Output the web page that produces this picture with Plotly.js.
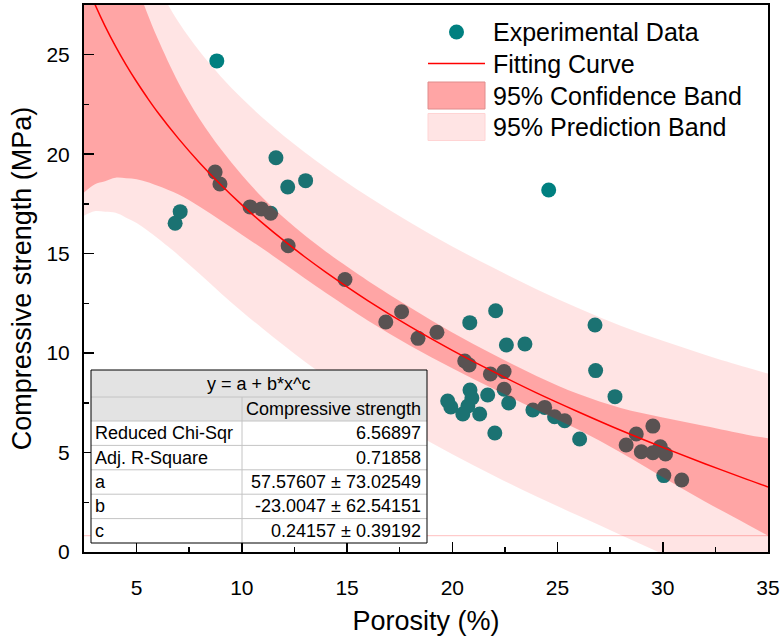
<!DOCTYPE html>
<html>
<head>
<meta charset="utf-8">
<script src="https://cdn.plot.ly/plotly-3.0.1.min.js"></script>
<style>
html,body{margin:0;padding:0;background:#fff;}
#chart{width:780px;height:637px;}
</style>
</head>
<body>
<div id="chart"></div>
<script>
// ---------------- data ----------------
const porosity = [6.83, 7.07, 8.81, 8.73, 8.96, 10.39, 10.93, 11.37, 11.62, 12.18, 13.03, 12.20, 14.90, 16.84, 17.59, 18.37, 19.27, 20.59, 20.80, 20.83, 22.06, 21.81, 22.46, 22.46, 22.57, 23.45, 19.78, 19.93, 20.84, 20.93, 20.74, 20.50, 21.30, 21.68, 22.68, 22.02, 23.83, 24.39, 24.86, 25.34, 26.05, 24.58, 26.78, 26.81, 27.73, 28.26, 28.74, 29.53, 28.98, 29.53, 29.88, 30.13, 30.05, 30.90];
const strength = [16.53, 17.11, 24.69, 19.10, 18.50, 17.35, 17.25, 17.03, 19.82, 18.35, 18.67, 15.40, 13.70, 11.56, 12.08, 10.74, 11.05, 9.60, 9.40, 11.53, 12.13, 8.95, 9.07, 8.18, 10.41, 10.46, 7.59, 7.29, 8.14, 7.74, 7.34, 6.94, 6.94, 7.89, 7.49, 5.98, 7.14, 7.27, 6.80, 6.60, 5.68, 18.20, 11.41, 9.12, 7.81, 5.38, 5.93, 6.33, 5.04, 4.99, 5.29, 4.93, 3.84, 3.62];

const fitX       = [2.5, 3, 3.5, 4, 4.5, 5, 5.5, 6, 7, 8, 9, 10, 11, 12, 13, 14, 16, 18, 20, 22, 24, 26, 28, 30, 32, 34, 35];
const fitY       = [28.87, 27.58, 26.44, 25.42, 24.49, 23.64, 22.85, 22.11, 20.77, 19.56, 18.46, 17.45, 16.52, 15.65, 14.83, 14.06, 12.63, 11.33, 10.14, 9.04, 8.00, 7.04, 6.12, 5.26, 4.44, 3.65, 3.27];
const confLower  = [18.07, 18.48, 18.64, 18.82, 18.79, 18.74, 18.60, 18.41, 17.97, 17.36, 16.66, 15.95, 15.24, 14.50, 13.75, 13.02, 11.63, 10.37, 9.24, 8.18, 7.15, 6.14, 5.00, 3.76, 2.54, 1.40, 0.82];
const confUpper  = [39.67, 36.68, 34.24, 32.02, 30.19, 28.54, 27.10, 25.81, 23.57, 21.76, 20.26, 18.95, 17.80, 16.80, 15.91, 15.10, 13.63, 12.29, 11.04, 9.90, 8.85, 7.94, 7.24, 6.76, 6.34, 5.90, 5.72];
const predLower  = [16.91, 17.13, 17.10, 17.05, 16.81, 16.54, 16.18, 15.77, 14.91, 13.97, 13.01, 12.09, 11.22, 10.38, 9.57, 8.81, 7.39, 6.10, 4.92, 3.82, 2.79, 1.82, 0.86, -0.10, -1.04, -1.97, -2.43];
const predUpper  = [40.83, 38.03, 35.78, 33.79, 32.17, 30.74, 29.52, 28.45, 26.63, 25.16, 23.91, 22.81, 21.82, 20.92, 20.09, 19.31, 17.87, 16.56, 15.36, 14.26, 13.21, 12.26, 11.38, 10.62, 9.92, 9.27, 8.97];

const legendLabels = ["Experimental Data", "Fitting Curve", "95% Confidence Band", "95% Prediction Band"];
const tableTitle   = "y = a + b*x^c";
const tableHeader  = ["", "Compressive strength"];
const tableParams  = ["Reduced Chi-Sqr", "Adj. R-Square", "a", "b", "c"];
const tableValues  = ["6.56897", "0.71858", "57.57607 \u00b1 73.02549", "-23.0047 \u00b1 62.54151", "0.24157 \u00b1 0.39192"];

const xTitle = "Porosity (%)";
const yTitle = "Compressive strength (MPa)";
const xRange = [2.5, 35];
const yRange = [0, 27.5];

// ---------------- layout helpers ----------------
const FONT = 'Liberation Sans, Arial, Helvetica, sans-serif';
const W = 780, H = 637;
const M = {l: 84, r: 12, t: 5, b: 85};
const PW = W - M.l - M.r, PH = H - M.t - M.b;
const fx = p => (p - M.l) / PW;          // pixel x -> paper
const fy = p => (H - M.b - p) / PH;      // pixel y -> paper

const TEAL = '#008080';
const PRED_FILL = 'rgba(255,0,0,0.106)';
const CONF_FILL = 'rgba(255,0,0,0.276)';

// ---------------- traces ----------------
const traces = [
  {x: porosity, y: strength, type: 'scatter', mode: 'markers',
   marker: {size: 15, color: TEAL, line: {width: 0}}, hoverinfo: 'skip'},
  {x: [xRange[0], xRange[1]], y: [confLower[confLower.length - 1], confLower[confLower.length - 1]],
   type: 'scatter', mode: 'lines', line: {color: 'rgba(255,0,0,0.25)', width: 1}, hoverinfo: 'skip'},
  {x: fitX, y: predLower, type: 'scatter', mode: 'lines', line: {width: 0, shape: 'spline'}, hoverinfo: 'skip'},
  {x: fitX, y: predUpper, type: 'scatter', mode: 'lines', fill: 'tonexty', fillcolor: PRED_FILL,
   line: {width: 0, shape: 'spline'}, hoverinfo: 'skip'},
  {x: fitX, y: confLower, type: 'scatter', mode: 'lines', line: {width: 0, shape: 'spline'}, hoverinfo: 'skip'},
  {x: fitX, y: confUpper, type: 'scatter', mode: 'lines', fill: 'tonexty', fillcolor: CONF_FILL,
   line: {width: 0, shape: 'spline'}, hoverinfo: 'skip'},
  {x: fitX, y: fitY, type: 'scatter', mode: 'lines', line: {color: '#FF0000', width: 1.5, shape: 'spline'}, hoverinfo: 'skip'}
];

// ---------------- shapes & annotations (legend, table) ----------------
const shapes = [];
const annotations = [];

// legend
const legRows = [32, 63.5, 95.5, 127];
const symX0 = 428, symX1 = 485, legTextX = 491;
shapes.push({type: 'circle', xref: 'paper', yref: 'paper', layer: 'above',
  x0: fx(449), x1: fx(464), y0: fy(legRows[0] - 7.5), y1: fy(legRows[0] + 7.5),
  fillcolor: TEAL, line: {width: 0}});
shapes.push({type: 'line', xref: 'paper', yref: 'paper', layer: 'above',
  x0: fx(symX0), x1: fx(symX1), y0: fy(legRows[1]), y1: fy(legRows[1]),
  line: {color: '#FF0000', width: 1.5}});
shapes.push({type: 'rect', xref: 'paper', yref: 'paper', layer: 'above',
  x0: fx(symX0), x1: fx(symX1), y0: fy(legRows[2] - 13.5), y1: fy(legRows[2] + 13.5),
  fillcolor: '#FFA5A5', line: {color: '#E08C8C', width: 1}});
shapes.push({type: 'rect', xref: 'paper', yref: 'paper', layer: 'above',
  x0: fx(symX0), x1: fx(symX1), y0: fy(legRows[3] - 13.5), y1: fy(legRows[3] + 13.5),
  fillcolor: '#FFE4E4', line: {color: '#FFD4D4', width: 1}});
legendLabels.forEach((t, i) => {
  annotations.push({text: t, xref: 'paper', yref: 'paper', x: fx(legTextX), y: fy(legRows[i]),
    xanchor: 'left', yanchor: 'middle', showarrow: false, font: {family: FONT, size: 25, color: '#000'}});
});

// table
const T = {x0: 91, x1: 427, xDiv: 242, y0: 370, yTitle: 397, yHead: 421, rowH: 24.4};
const tBottom = T.yHead + T.rowH * tableParams.length;
const GRID = '#C4C4C4';
shapes.push({type: 'rect', xref: 'paper', yref: 'paper', layer: 'above',
  x0: fx(T.x0), x1: fx(T.x1), y0: fy(T.y0), y1: fy(tBottom), fillcolor: '#FFFFFF', line: {width: 0}});
shapes.push({type: 'rect', xref: 'paper', yref: 'paper', layer: 'above',
  x0: fx(T.x0), x1: fx(T.x1), y0: fy(T.y0), y1: fy(T.yHead), fillcolor: '#E3E3E3', line: {width: 0}});
[T.yTitle, T.yHead].concat(tableParams.slice(1).map((_, i) => T.yHead + T.rowH * (i + 1))).forEach(yy => {
  shapes.push({type: 'line', xref: 'paper', yref: 'paper', layer: 'above',
    x0: fx(T.x0), x1: fx(T.x1), y0: fy(yy), y1: fy(yy), line: {color: GRID, width: 1}});
});
shapes.push({type: 'line', xref: 'paper', yref: 'paper', layer: 'above',
  x0: fx(T.xDiv), x1: fx(T.xDiv), y0: fy(T.yTitle), y1: fy(tBottom), line: {color: GRID, width: 1}});
shapes.push({type: 'rect', xref: 'paper', yref: 'paper', layer: 'above',
  x0: fx(T.x0), x1: fx(T.x1), y0: fy(T.y0), y1: fy(tBottom), fillcolor: 'rgba(0,0,0,0)', line: {color: '#000', width: 1}});

const TF = {family: FONT, size: 18, color: '#000'};
annotations.push({text: tableTitle, xref: 'paper', yref: 'paper', x: fx((T.x0 + T.x1) / 2), y: fy((T.y0 + T.yTitle) / 2),
  xanchor: 'center', yanchor: 'middle', showarrow: false, font: TF});
annotations.push({text: tableHeader[1], xref: 'paper', yref: 'paper', x: fx(T.x1 - 4), y: fy((T.yTitle + T.yHead) / 2),
  xanchor: 'right', yanchor: 'middle', showarrow: false, font: TF});
tableParams.forEach((p, i) => {
  const yc = fy(T.yHead + T.rowH * (i + 0.5));
  annotations.push({text: p, xref: 'paper', yref: 'paper', x: fx(T.x0 + 2), y: yc,
    xanchor: 'left', yanchor: 'middle', showarrow: false, font: TF});
  annotations.push({text: tableValues[i], xref: 'paper', yref: 'paper', x: fx(T.x1 - 4), y: yc,
    xanchor: 'right', yanchor: 'middle', showarrow: false, font: TF});
});

// ---------------- axes ----------------
const axisCommon = {
  showline: true, linewidth: 2, linecolor: '#000', mirror: true,
  showgrid: false, zeroline: false,
  ticks: 'inside', ticklen: 10, tickwidth: 1.5, tickcolor: '#000',
  tickmode: 'linear', tick0: 0, dtick: 5,
  tickfont: {family: FONT, size: 21, color: '#000'},
  minor: {ticks: 'inside', ticklen: 5, tickwidth: 1.5, tickcolor: '#000', dtick: 2.5, tick0: 0, showgrid: false}
};

const layout = {
  width: W, height: H,
  margin: {l: M.l, r: M.r, t: M.t, b: M.b, pad: 0},
  paper_bgcolor: '#fff', plot_bgcolor: '#fff',
  showlegend: false,
  font: {family: FONT, color: '#000'},
  xaxis: Object.assign({}, axisCommon, {
    range: xRange, ticklabelstandoff: 16,
    title: {text: xTitle, font: {family: FONT, size: 27, color: '#000'}, standoff: 13}
  }),
  yaxis: Object.assign({}, axisCommon, {
    range: yRange, ticklabelstandoff: 8,
    title: {text: yTitle, font: {family: FONT, size: 27, color: '#000'}, standoff: 7}
  }),
  shapes: shapes,
  annotations: annotations
};

Plotly.newPlot('chart', traces, layout, {displayModeBar: false, staticPlot: true});
</script>
</body>
</html>
